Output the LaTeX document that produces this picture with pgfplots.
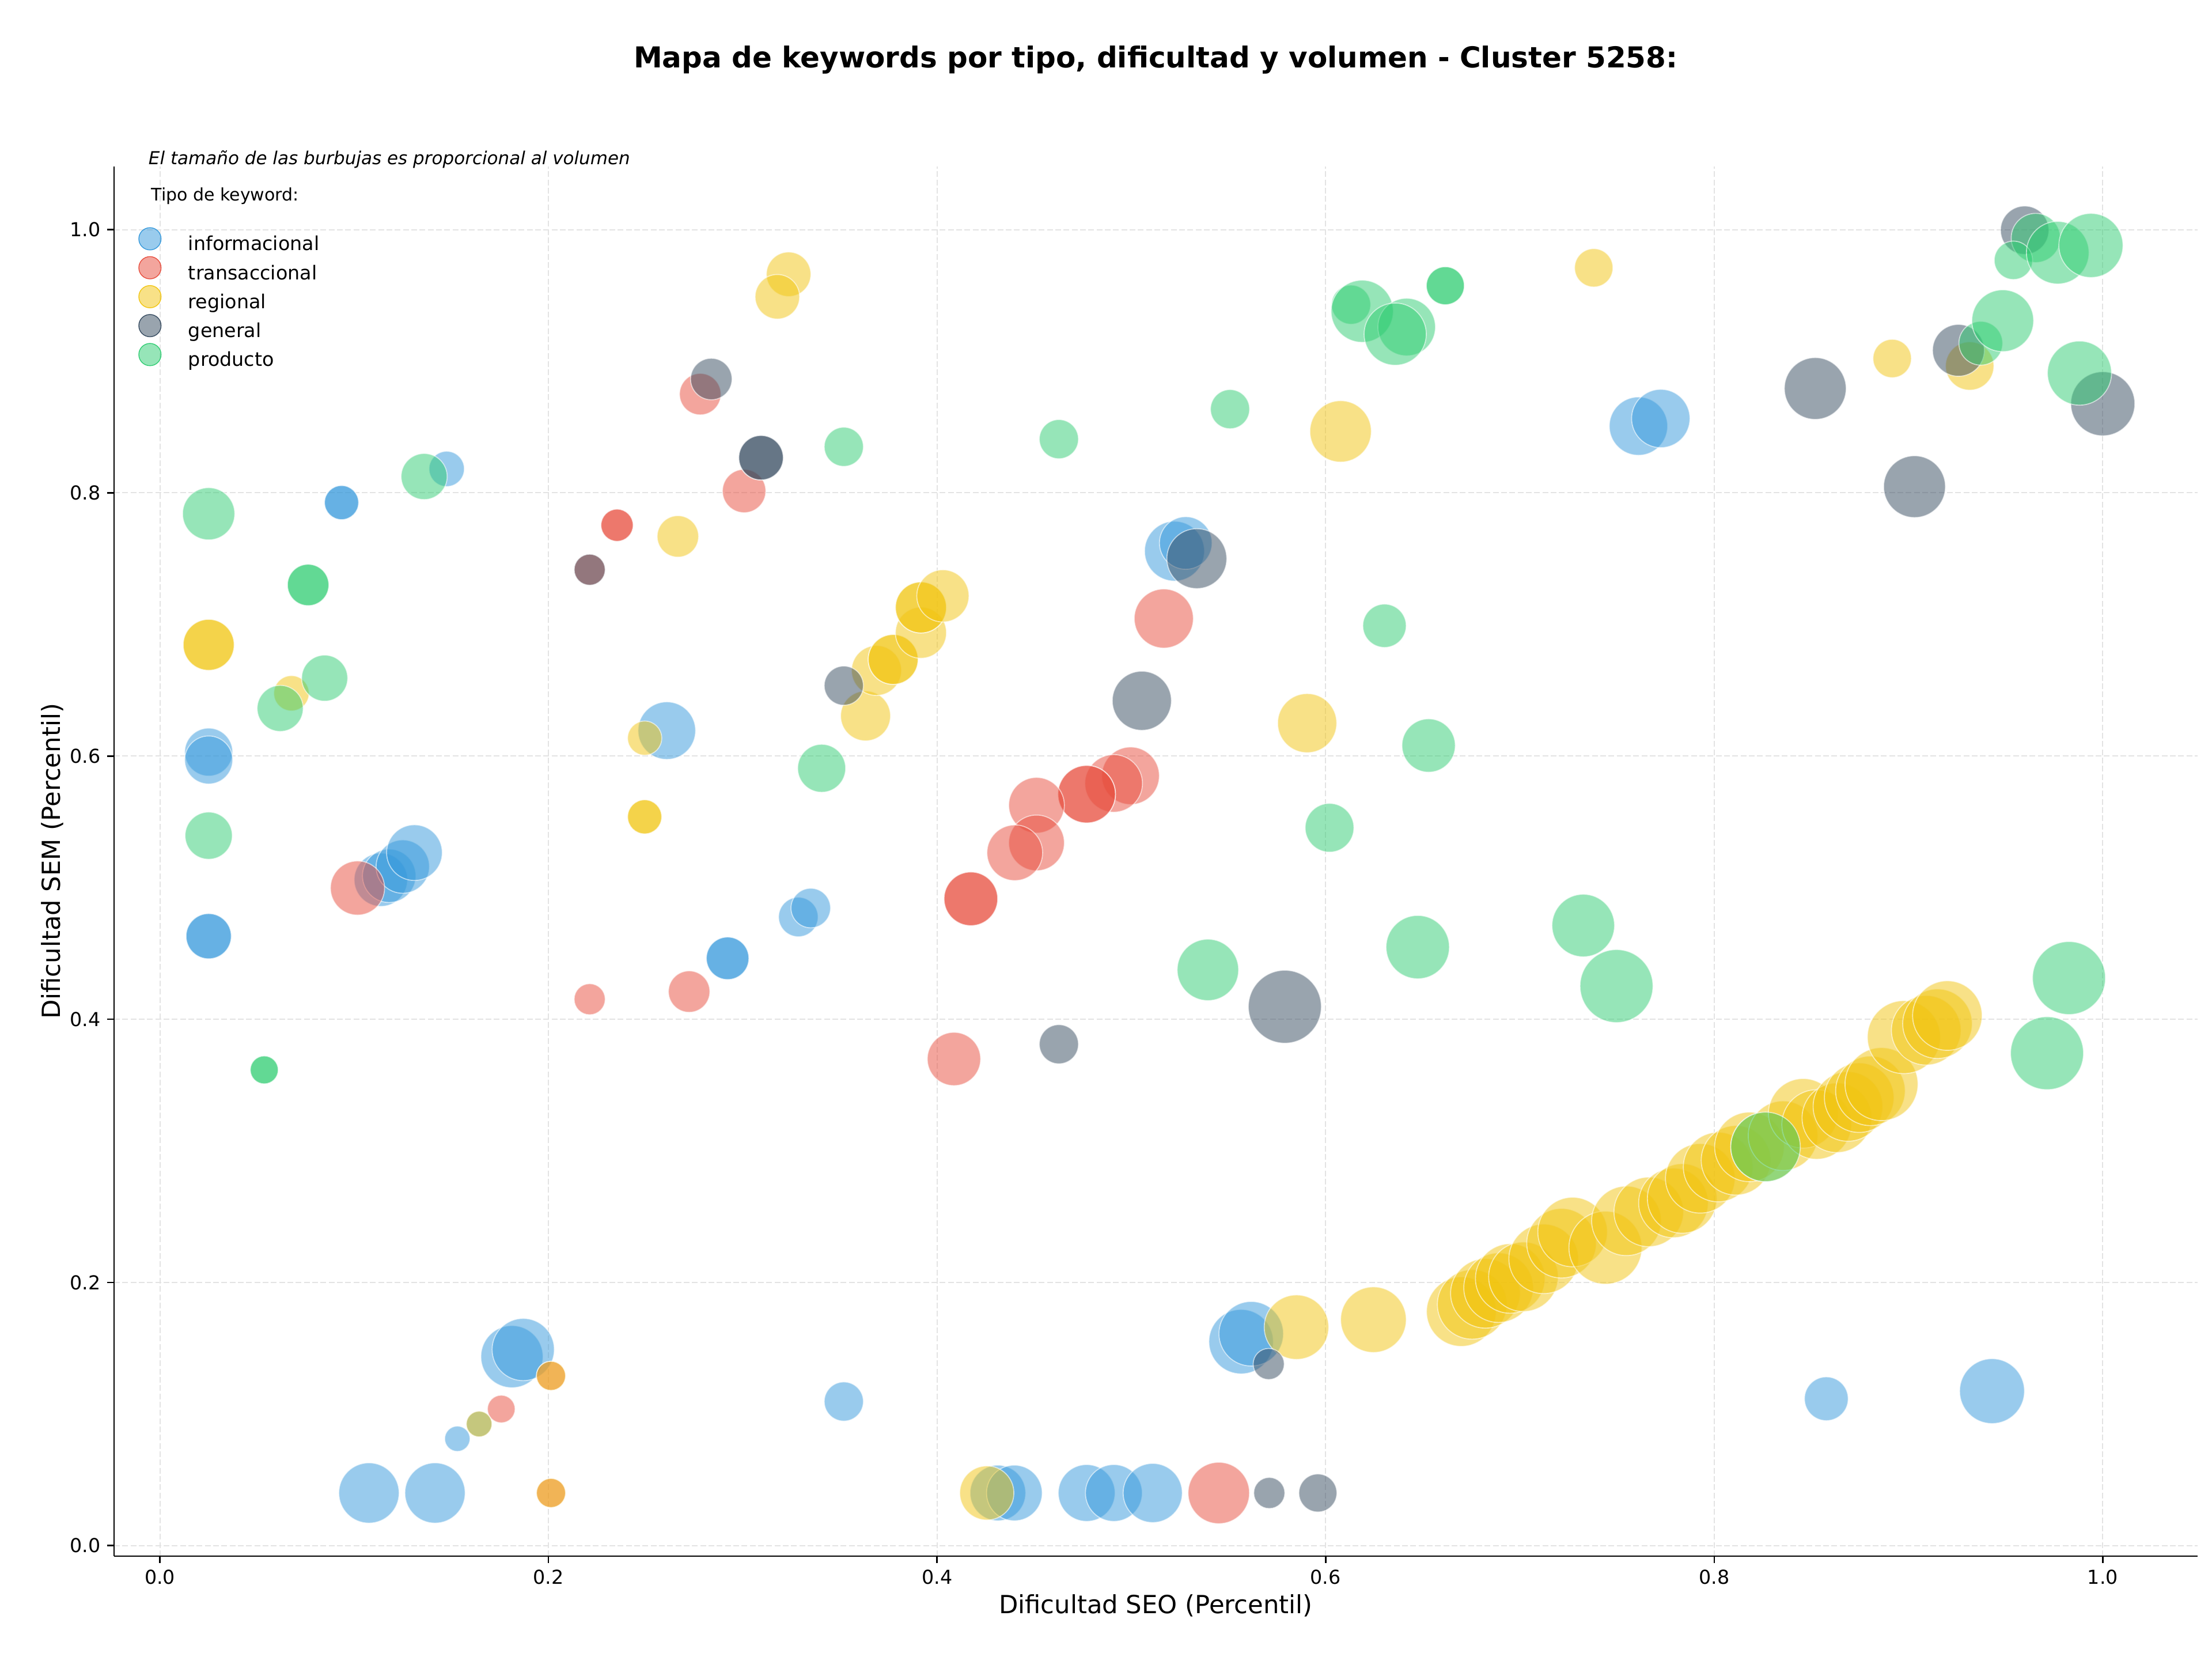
\documentclass[border=0pt]{standalone}
\usepackage{fontspec}
\setmainfont{DejaVu Sans}
\usepackage{pgfplots}
\pgfplotsset{compat=1.18}
\usepackage{pgfplotstable}

\definecolor{cinfo}{HTML}{3498DB}
\definecolor{ctrans}{HTML}{E74C3C}
\definecolor{creg}{HTML}{F1C40F}
\definecolor{cgen}{HTML}{34495E}
\definecolor{cprod}{HTML}{2ECC71}

% x = SEO percentile, y = SEM percentile, r = bubble radius (pt, scaled from volume)
\pgfplotstableread{
x y r
0.1476 0.8182 9.2
0.0935 0.7926 8.9
0.0935 0.7926 8.9
0.0251 0.6030 12.5
0.0251 0.5970 12.5
0.0251 0.4631 11.8
0.0251 0.4631 11.8
0.2609 0.6193 15.0
0.1137 0.5060 13.9
0.1180 0.5090 13.9
0.1250 0.5160 13.9
0.1310 0.5266 14.5
0.3286 0.4777 10.3
0.3350 0.4845 10.3
0.2922 0.4463 11.1
0.2922 0.4463 11.1
0.3520 0.1095 10.2
0.1812 0.1436 16.2
0.1870 0.1490 16.2
0.1531 0.0812 6.6
0.1643 0.0924 6.7
0.1076 0.0400 15.7
0.1416 0.0400 15.7
0.4313 0.0400 14.5
0.4398 0.0400 14.5
0.4770 0.0400 14.8
0.4910 0.0400 14.8
0.5110 0.0400 15.4
0.5565 0.1550 16.8
0.5617 0.1610 16.8
0.8577 0.1116 11.4
0.9430 0.1174 16.9
0.7610 0.8507 15.2
0.7725 0.8565 15.2
0.5222 0.7557 15.6
0.5280 0.7619 13.7
}\informacional

\pgfplotstableread{
x y r
0.2781 0.8750 10.8
0.3007 0.8014 11.3
0.2353 0.7754 8.4
0.2353 0.7754 8.4
0.2212 0.7416 8.1
0.5167 0.7045 15.4
0.4996 0.5850 15.0
0.4909 0.5792 15.0
0.4770 0.5710 15.0
0.4770 0.5710 15.0
0.4512 0.5626 14.5
0.4512 0.5340 14.5
0.4400 0.5265 14.5
0.4174 0.4915 14.0
0.4174 0.4915 14.0
0.1017 0.4997 14.1
0.2212 0.4152 8.1
0.2724 0.4210 10.8
0.4087 0.3698 13.9
0.1757 0.1038 7.2
0.2013 0.1290 7.6
0.2013 0.0400 7.6
0.5450 0.0400 16.0
}\transaccional

\pgfplotstableread{
x y r
0.3236 0.9661 11.6
0.3178 0.9490 11.6
0.2666 0.7669 10.8
0.0251 0.6845 13.3
0.0251 0.6845 13.3
0.0677 0.6477 9.2
0.2495 0.6136 8.9
0.2495 0.5538 8.9
0.2495 0.5538 8.9
0.3632 0.6305 13.0
0.3688 0.6650 13.0
0.3774 0.6734 13.0
0.3774 0.6734 13.0
0.3917 0.6937 13.3
0.3917 0.7129 13.3
0.3917 0.7129 13.3
0.4030 0.7217 13.6
0.6077 0.8467 16.0
0.5905 0.6250 15.4
0.7380 0.9710 10.0
0.8916 0.9021 10.0
0.9315 0.8964 12.6
0.1643 0.0924 6.7
0.2013 0.1290 7.6
0.2013 0.0400 7.6
0.4256 0.0400 14.1
0.5850 0.1660 16.8
0.6246 0.1717 17.1
0.6698 0.1778 18.1
0.6754 0.1833 18.1
0.6822 0.1917 18.1
0.6890 0.1960 18.1
0.6950 0.2030 18.1
0.7018 0.2043 18.1
0.7122 0.2179 18.1
0.7214 0.2298 18.1
0.7271 0.2383 18.1
0.7440 0.2264 19.0
0.7548 0.2468 18.1
0.7663 0.2536 18.1
0.7790 0.2604 18.1
0.7835 0.2638 18.1
0.7928 0.2791 18.1
0.8020 0.2877 18.1
0.8112 0.2928 18.1
0.8181 0.3030 18.1
0.8264 0.3030 18.1
0.8354 0.3115 18.1
0.8458 0.3285 18.1
0.8527 0.3200 18.1
0.8631 0.3251 18.1
0.8688 0.3337 18.1
0.8746 0.3404 18.1
0.8804 0.3456 18.1
0.8861 0.3507 19.0
0.8976 0.3864 19.0
0.9091 0.3916 18.1
0.9149 0.3966 18.1
0.9200 0.4028 18.1
}\regional

\pgfplotstableread{
x y r
0.2838 0.8865 10.8
0.3094 0.8267 11.6
0.3094 0.8267 11.6
0.2212 0.7416 8.1
0.3520 0.6535 10.2
0.5337 0.7500 15.6
0.5054 0.6420 15.4
0.4627 0.3810 10.2
0.5790 0.4095 19.0
0.5707 0.1380 8.1
0.5710 0.0400 8.1
0.5960 0.0400 9.9
0.8520 0.8793 16.1
0.9031 0.8047 16.1
0.9257 0.9083 13.5
1.0000 0.8677 16.7
0.9598 0.9996 12.6
}\general

\pgfplotstableread{
x y r
0.1360 0.8124 12.0
0.0251 0.7841 13.6
0.0763 0.7300 10.8
0.0763 0.7300 10.8
0.0848 0.6592 12.0
0.0619 0.6362 12.0
0.0251 0.5395 12.3
0.0537 0.3615 7.3
0.0537 0.3615 7.3
0.3520 0.8350 10.2
0.4627 0.8408 10.2
0.5508 0.8636 10.2
0.6131 0.9430 10.2
0.6188 0.9380 16.2
0.6417 0.9260 15.0
0.6358 0.9206 16.2
0.6616 0.9574 9.9
0.6616 0.9574 9.9
0.3406 0.5907 12.5
0.6303 0.6990 11.3
0.6530 0.6080 13.9
0.6020 0.5455 12.7
0.5394 0.4375 16.0
0.6474 0.4548 16.5
0.7326 0.4712 16.3
0.7497 0.4252 19.0
0.9826 0.4313 19.0
0.9713 0.3742 19.0
0.8264 0.3030 18.1
0.9372 0.9137 11.4
0.9485 0.9308 16.1
0.9880 0.8910 16.7
0.9655 0.9937 12.8
0.9540 0.9767 10.0
0.9768 0.9825 16.3
0.9939 0.9880 16.7
}\producto

\pgfplotsset{
  bubble/.style={
    scatter, only marks, mark=*, forget plot,
    point meta=y,
    visualization depends on={\thisrow{r} \as \rad},
    scatter/@pre marker code/.code={%
      \scope[mark size=\rad pt, fill=#1, draw=white, fill opacity=0.5,
        draw opacity=0.6, line width=0.5pt]},
    scatter/@post marker code/.code={\endscope},
  },
  legbubble/.style={
    legend image code/.code={
      \fill[overlay, #1, fill opacity=0.5] (0pt,3.6pt) circle (5.8pt);
      \path (-5.1pt,0pt) (19.8pt,3.6pt);
    }
  },
}

\begin{document}
\begin{tikzpicture}
\useasboundingbox (-59.4pt,-54.6pt) rectangle (1092.6pt,810.3pt);
\begin{axis}[
  at={(0,0)}, anchor=south west,
  width=1085pt, height=723.6pt, scale only axis,
  clip=false,
  xmin=-0.0236, xmax=1.0487, ymin=-0.008, ymax=1.048,
  axis x line*=bottom, axis y line*=left,
  axis line style={-, line width=0.8pt, black},
  xtick={0,0.2,0.4,0.6,0.8,1.0},
  ytick={0,0.2,0.4,0.6,0.8,1.0},
  tick align=outside, major tick length=3.5pt,
  every tick/.style={black, line width=0.8pt},
  x tick label style={/pgf/number format/.cd, fixed, fixed zerofill, precision=1, assume math mode=true},
  y tick label style={/pgf/number format/.cd, fixed, fixed zerofill, precision=1, assume math mode=true},
  tick label style={font=\fontsize{10}{12}\selectfont},
  grid=major,
  major grid style={gray!22, dash pattern=on 3pt off 1.3pt, line width=0.6pt},
  xlabel={Dificultad SEO (Percentil)},
  ylabel={Dificultad SEM (Percentil)},
  every axis x label/.style={at={(axis description cs:0.5,-0.0355)}, anchor=center,
    font=\fontsize{13}{15}\selectfont},
  every axis y label/.style={at={(axis description cs:-0.0297,0.5)}, anchor=center,
    rotate=90, font=\fontsize{13}{15}\selectfont},
  title={Mapa de keywords por tipo, dificultad y volumen - Cluster 5258:},
  title style={at={(axis description cs:0.5,1.0683)}, anchor=center,
    font=\bfseries\fontsize{15}{18}\selectfont},
  legend cell align=left,
  legend style={at={(axis description cs:0.01235,0.9534)}, anchor=north west,
    draw=none, fill=none, inner sep=0pt, outer sep=0pt,
    row sep=0pt, column sep=0pt,
    font=\fontsize{10}{12}\selectfont,
    nodes={inner sep=0pt, outer sep=0pt, text height=10.07pt, text depth=5pt}},
]
\addplot[bubble=cinfo] table[x=x, y=y] {\informacional};
\addplot[bubble=ctrans] table[x=x, y=y] {\transaccional};
\addplot[bubble=creg] table[x=x, y=y] {\regional};
\addplot[bubble=cgen] table[x=x, y=y] {\general};
\addplot[bubble=cprod] table[x=x, y=y] {\producto};

\addlegendimage{legbubble=cinfo}
\addlegendentry{informacional}
\addlegendimage{legbubble=ctrans}
\addlegendentry{transaccional}
\addlegendimage{legbubble=creg}
\addlegendentry{regional}
\addlegendimage{legbubble=cgen}
\addlegendentry{general}
\addlegendimage{legbubble=cprod}
\addlegendentry{producto}

\node[anchor=west, font=\itshape\fontsize{9.3}{11}\selectfont, inner sep=0pt]
  at (axis description cs:0.0164,1.0051)
  {El tamaño de las burbujas es proporcional al volumen};
\node[anchor=west, font=\fontsize{9}{11}\selectfont, inner sep=0pt]
  at (axis description cs:0.0177,0.9786) {Tipo de keyword:};
\end{axis}
\end{tikzpicture}
\end{document}
